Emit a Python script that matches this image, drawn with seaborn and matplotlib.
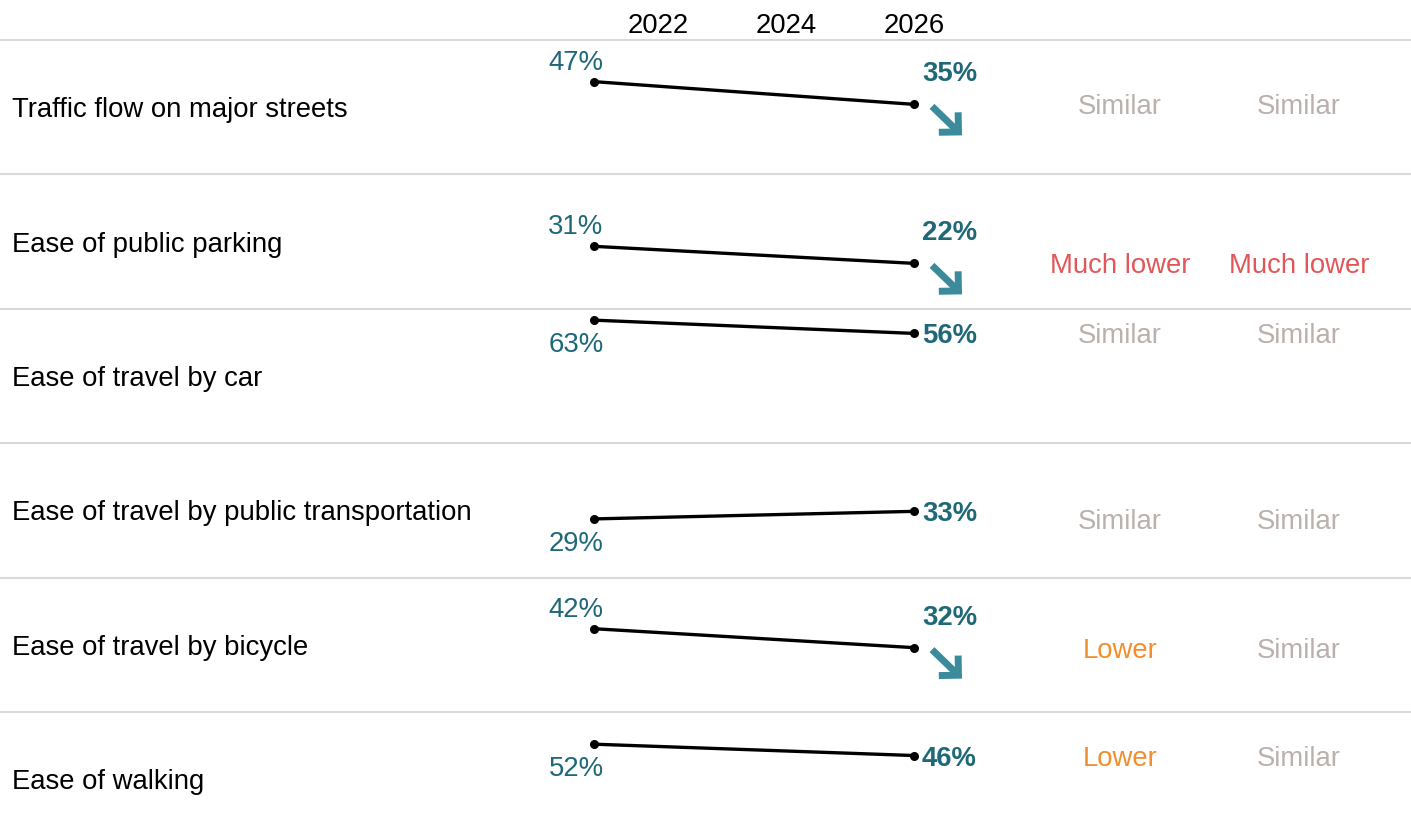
import pandas as pd
import numpy as np
import matplotlib.pyplot as plt
import matplotlib.transforms as mtransforms
import seaborn as sns

measures = ["Traffic flow on major streets", "Ease of public parking", "Ease of travel by car",
            "Ease of travel by public transportation", "Ease of travel by bicycle", "Ease of walking"]
years = [2021, 2026]
start_vals = [47, 31, 63, 29, 42, 52]
end_vals = [35, 22, 56, 33, 32, 46]
big_drop = [True, True, False, False, True, False]
compare_a = ["Similar", "Much lower", "Similar", "Similar", "Lower", "Lower"]
compare_b = ["Similar", "Much lower", "Similar", "Similar", "Similar", "Similar"]
year_ticks = [2022, 2024, 2026]

rows = []
for m, s, e in zip(measures, start_vals, end_vals):
    rows.append({"measure": m, "year": years[0], "value": s})
    rows.append({"measure": m, "year": years[1], "value": e})
df = pd.DataFrame(rows)

sns.set_style("white")
plt.rcParams['font.family'] = ['Liberation Sans', 'DejaVu Sans']
FS = 19.8
teal = "#1f6878"
arrow_c = "#3b8b9c"
comp_colors = {"Similar": "#bab0ac", "Lower": "#f28e2b", "Much lower": "#e15759"}

W, H = 1411, 840
fig = plt.figure(figsize=(W / 100, H / 100), dpi=100)
top_px = 40
row_h = 134.4
px = 0.72  # points per pixel at dpi 100
VA = "center_baseline"

for i, m in enumerate(measures):
    y0 = 1 - (top_px + (i + 1) * row_h) / H
    ax = fig.add_axes([0, y0, 1, row_h / H])
    sub = df[df.measure == m]
    sns.lineplot(data=sub, x="year", y="value", color="black", lw=2.4,
                 marker="o", markersize=6.5, markeredgewidth=0, ax=ax)
    ax.set_xlim(2021 - 594 / 64, 2021 + (W - 594) / 64)
    ax.set_ylim(-2, 69)
    for sp in ["left", "right", "bottom"]:
        ax.spines[sp].set_visible(False)
    ax.spines["top"].set_color("#d9d9d9")
    ax.spines["top"].set_linewidth(1.5)
    ax.set_xlabel("")
    ax.set_ylabel("")
    ax.set_yticks([])
    if i == 0:
        ax.set_xticks(year_ticks)
        ax.set_xticklabels([str(y) for y in year_ticks])
        ax.tick_params(axis="x", top=True, bottom=False, labeltop=True, labelbottom=False,
                       length=0, pad=0.5, labelsize=FS, labelcolor="black")
    else:
        ax.set_xticks([])

    ax.text(12 / W, 0.5, m, transform=ax.transAxes, va=VA, ha="left", fontsize=FS, color="black")

    s, e = start_vals[i], end_vals[i]
    dy = 22 if big_drop[i] else -22
    ax.annotate(f"{s}%", xy=(years[0], s), xytext=(-18 * px, dy * px), textcoords="offset points",
                ha="center", va=VA, fontsize=FS, color=teal)
    if big_drop[i]:
        ax.annotate(f"{e}%", xy=(years[1], e), xytext=(8 * px, 33 * px), textcoords="offset points",
                    ha="left", va=VA, fontsize=FS, color=teal, fontweight="bold")
        tail = mtransforms.offset_copy(ax.transData, fig=fig, x=18, y=-2, units="dots")
        head = mtransforms.offset_copy(ax.transData, fig=fig, x=48, y=-31, units="dots")
        ax.annotate("", xy=(years[1], e), xycoords=head, xytext=(years[1], e), textcoords=tail,
                    arrowprops=dict(arrowstyle="->,head_length=0.5,head_width=0.5", lw=5,
                                    color=arrow_c, mutation_scale=20, shrinkA=0, shrinkB=0,
                                    capstyle="butt", joinstyle="miter"),
                    annotation_clip=False)
    else:
        ax.annotate(f"{e}%", xy=(years[1], e), xytext=(8 * px, 0), textcoords="offset points",
                    ha="left", va=VA, fontsize=FS, color=teal, fontweight="bold")

    blend = mtransforms.blended_transform_factory(ax.transAxes, ax.transData)
    ylev = min(s, e)
    ax.text(1120 / W, ylev, compare_a[i], transform=blend, ha="center", va=VA,
            fontsize=FS, color=comp_colors[compare_a[i]])
    ax.text(1299 / W, ylev, compare_b[i], transform=blend, ha="center", va=VA,
            fontsize=FS, color=comp_colors[compare_b[i]])

plt.savefig("out.png", dpi=100)
